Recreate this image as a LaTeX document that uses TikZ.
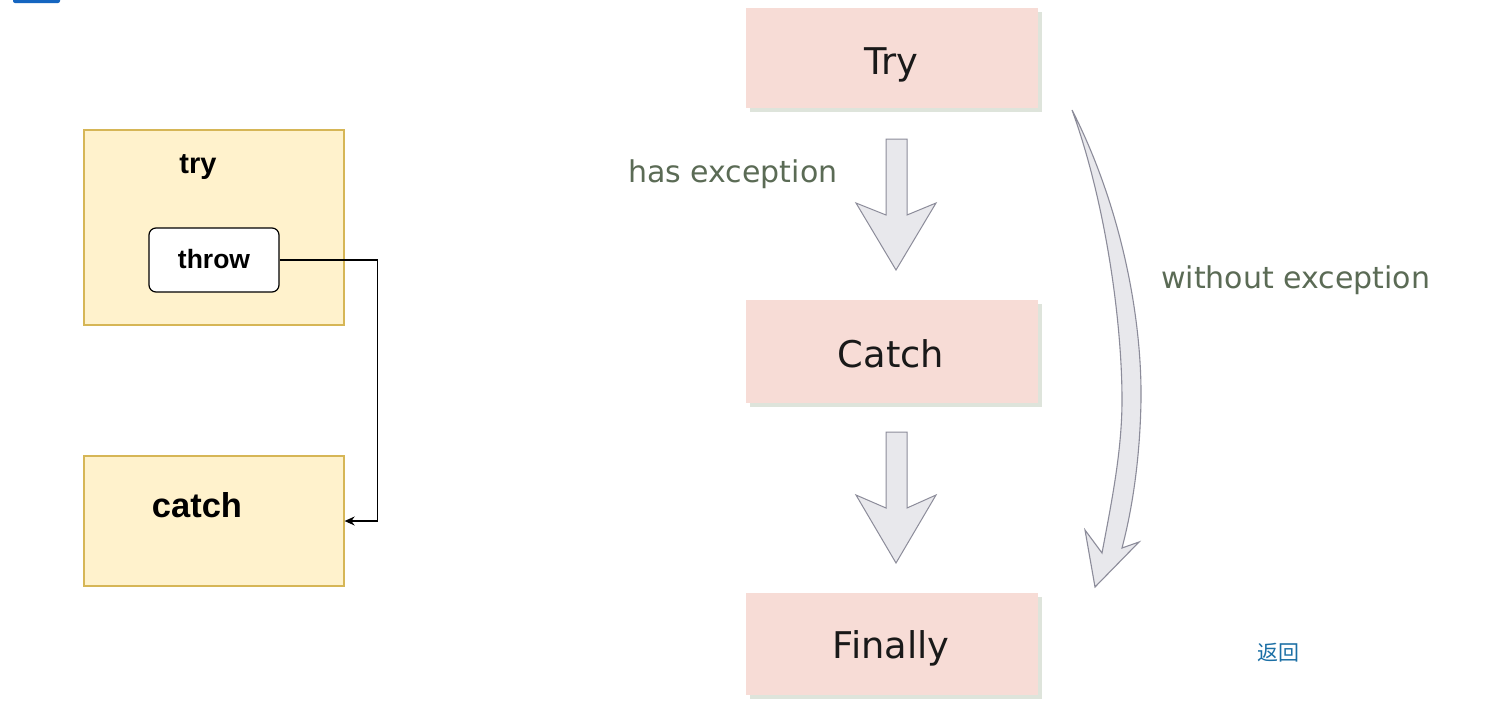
\documentclass[tikz,border=0pt]{standalone}
\usepackage{fontspec}
\setmainfont{Liberation Sans}
\newfontfamily\dejavu{DejaVu Sans}
\newfontfamily\cjkfont{Noto Sans CJK SC}
\usetikzlibrary{arrows.meta,calc}
\definecolor{ybox}{HTML}{FFF2CC}
\definecolor{yline}{HTML}{D6B656}
\definecolor{pinkbox}{HTML}{F7DCD6}
\definecolor{pinkshadow}{HTML}{DEE4DB}
\definecolor{arrfill}{HTML}{E8E8EC}
\definecolor{arrline}{HTML}{8C8C9A}
\definecolor{labgreen}{HTML}{5B6B55}
\definecolor{linkblue}{HTML}{1B6FA5}
\definecolor{barblue}{HTML}{1565C0}
\tikzset{
  ybx/.style={draw=yline,fill=ybox,line width=1.3pt,minimum width=260pt,inner sep=0pt},
  pbx/.style={fill=pinkbox,minimum width=292pt,minimum height=100pt,inner sep=0pt},
  bigtxt/.style={anchor=base,inner sep=0pt,text=black!90,font=\dejavu\fontsize{36.8}{40}\selectfont},
  shadowbox/.style={fill=pinkshadow},
  blockarrow/.style={fill=arrfill,draw=arrline,line width=1pt,line join=miter},
  lab/.style={text=labgreen,font=\dejavu\fontsize{30}{32}\selectfont,anchor=base west,inner sep=0pt},
}
\begin{document}
\begin{tikzpicture}[x=1pt,y=-1pt]
\useasboundingbox (0,0) rectangle (1494,724);
\fill[white] (0,0) rectangle (1494,724);
% partial blue element at top left
\fill[barblue,rounded corners=2pt] (13,-5) rectangle (60,3);

% ---- left diagram ----
\node[ybx,minimum height=195pt] (trybox) at (214,227.5) {};
\node[ybx,minimum height=130pt] (catchbox) at (214,521) {};
\node[anchor=base,inner sep=0pt,font=\bfseries\fontsize{29}{32}\selectfont] (trylab) at (198,173) {try};
\node[anchor=base,inner sep=0pt,font=\bfseries\fontsize{34.5}{38}\selectfont] (catchlab) at (197,517) {catch};
\node[draw=black,fill=white,rounded corners=7pt,line width=1.2pt,minimum width=130pt,minimum height=64pt,inner sep=0pt] (throw) at (214,260) {};
\node[anchor=base,inner sep=0pt,font=\bfseries\fontsize{26.5}{30}\selectfont] (throwlab) at (214,268) {throw};
\draw[line width=1.3pt,-{Stealth[length=10pt,width=9pt]}] (throw.east) -- ++(98,0) |- (catchbox.east);

% ---- right diagram ----
\fill[shadowbox] (750,12) rectangle (1042,112);
\fill[shadowbox] (750,304) rectangle (1042,407);
\fill[shadowbox] (750,597) rectangle (1042,699);
\node[pbx] (Try) at (892,58) {};
\node[pbx,minimum height=103pt] (Catch) at (892,351.5) {};
\node[pbx,minimum height=102pt] (Finally) at (892,644) {};
\node[bigtxt] (trytxt) at (891,74) {Try};
\node[bigtxt] (catchtxt) at (891,367) {Catch};
\node[bigtxt] (finallytxt) at (891,658) {Finally};

% block arrows
\draw[blockarrow] (886,139) -- (907,139) -- (907,215) -- (936,203) -- (896,270) -- (856,203) -- (886,215) -- cycle;
\draw[blockarrow] (886,432) -- (907,432) -- (907,508) -- (936,495) -- (896,563) -- (856,495) -- (886,508) -- cycle;

% curved arrow
\draw[blockarrow,line width=1.1pt]
  (1072,110) .. controls (1118,200) and (1142,310) .. (1141,400)
  .. controls (1140,460) and (1132,510) .. (1122,548)
  -- (1139,542) -- (1095,587) -- (1085,530) -- (1102,553)
  .. controls (1112,500) and (1122,450) .. (1122,400)
  .. controls (1122,320) and (1105,200) .. (1072,110) -- cycle;

% labels
\node[lab] (hasex) at (628,182) {has exception};
\node[lab] (withoutex) at (1161,288) {without exception};
\node[text=linkblue,inner sep=0pt,font=\cjkfont\fontsize{21}{24}\selectfont] (back) at (1278,653) {返回};
\end{tikzpicture}
\end{document}
